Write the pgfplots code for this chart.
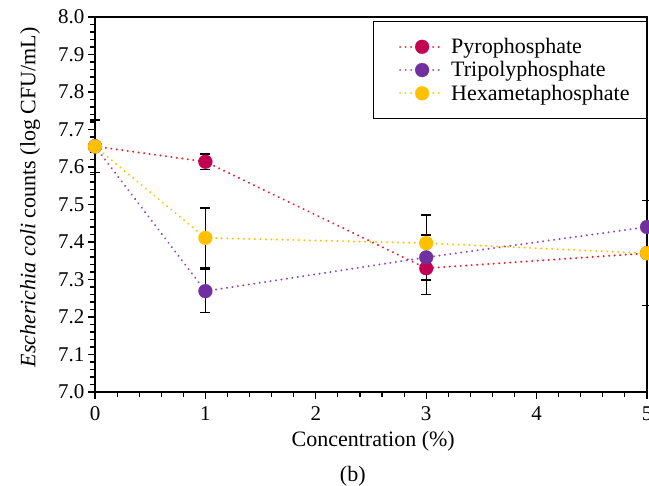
\documentclass[border=0pt]{standalone}
\usepackage{pgfplots}
\pgfplotsset{compat=1.18}
\usepackage{fontspec}
\setmainfont{Liberation Serif}
\definecolor{pyroM}{RGB}{196,0,82}
\definecolor{pyroL}{RGB}{232,28,36}
\definecolor{triM}{RGB}{112,48,160}
\definecolor{triL}{RGB}{140,70,185}
\definecolor{hexM}{RGB}{255,192,0}
\definecolor{hexL}{RGB}{255,192,0}
\begin{document}
\begin{tikzpicture}
\begin{axis}[
  name=ax, at={(0,0)}, anchor=south west,
  scale only axis, width=552pt, height=375pt,
  xmin=0, xmax=5, ymin=7, ymax=8,
  xtick={0,1,2,3,4,5},
  ytick={7.0,7.1,7.2,7.3,7.4,7.5,7.6,7.7,7.8,7.9,8.0},
  minor x tick num=4, minor y tick num=4,
  xtick pos=left, ytick pos=left,
  tick align=outside, major tick length=7pt, minor tick length=4.5pt,
  tick style={black, line width=1.1pt},
  axis line style={black, line width=1.1pt},
  /pgf/number format/assume math mode=true,
  ticklabel style={font=\fontsize{21}{24}\selectfont},
  xticklabel style={yshift=-4pt},
  yticklabel style={/pgf/number format/.cd, fixed, fixed zerofill, precision=1},
  xlabel={Concentration (\%)},
  ylabel={\textit{Escherichia coli} counts (log CFU/mL)},
  label style={font=\fontsize{22}{24}\selectfont},
  xlabel style={at={(rel axis cs:0.504,0)}, anchor=center, yshift=-49pt},
  ylabel style={at={(rel axis cs:0,0.519)}, anchor=center, yshift=65pt},
  legend style={at={(rel axis cs:1,1)}, anchor=north east, yshift=-4pt,
    draw=black, line width=0.8pt, font=\fontsize{22}{22.5}\selectfont,
    inner xsep=15pt, inner ysep=15pt, row sep=2.5pt},
  legend cell align=left,
  legend image code/.code={\path (-11pt,0pt) (48pt,0pt);\draw[mark repeat=2,mark phase=2,#1] plot coordinates {(0pt,0pt)(22pt,0pt)(44pt,0pt)};},
  error bars/error bar style={black, line width=1.3pt, solid},
  error bars/error mark options={rotate=90, black, mark size=5pt, line width=1.3pt, solid},
  clip=false,
]
% error bars first (under markers)
\addplot[forget plot, draw=none, mark=none, error bars/.cd, y dir=both, y explicit]
  coordinates {(0,7.655) +- (0,0.07) (1,7.614) +- (0,0.021) (3,7.330) +- (0,0.07) (5,7.37) +- (0,0.14)};
\addplot[forget plot, draw=none, mark=none, error bars/.cd, y dir=both, y explicit]
  coordinates {(0,7.655) +- (0,0.07) (1,7.269) +- (0,0.057) (3,7.359) +- (0,0.06) (5,7.44) +- (0,0.07)};
\addplot[forget plot, draw=none, mark=none, error bars/.cd, y dir=both, y explicit]
  coordinates {(0,7.655) +- (0,0.07) (1,7.411) +- (0,0.08) (3,7.397) +- (0,0.075) (5,7.37) +- (0,0.008)};
% series
\addplot[pyroL, line width=2.2pt, line cap=round, dash pattern=on 0.01pt off 5.5pt,
  mark=*, mark size=7pt, mark options={solid, draw=pyroM, fill=pyroM, line width=0.1pt}]
  coordinates {(0,7.655) (1,7.614) (3,7.330) (5,7.37)};
\addlegendentry{Pyrophosphate}
\addplot[triL, line width=2.2pt, line cap=round, dash pattern=on 0.01pt off 5.5pt,
  mark=*, mark size=7pt, mark options={solid, draw=triM, fill=triM, line width=0.1pt}]
  coordinates {(0,7.655) (1,7.269) (3,7.359) (5,7.44)};
\addlegendentry{Tripolyphosphate}
\addplot[hexL, line width=2.2pt, line cap=round, dash pattern=on 0.01pt off 5.5pt,
  mark=*, mark size=7pt, mark options={solid, draw=hexM, fill=hexM, line width=0.1pt}]
  coordinates {(0,7.655) (1,7.411) (3,7.397) (5,7.37)};
\addlegendentry{Hexametaphosphate}
\node[font=\fontsize{22}{24}\selectfont] at (rel axis cs:0.467,0) [yshift=-84pt] {(b)};
\end{axis}
\pgfresetboundingbox
\path ([shift={(-95pt,-94pt)}]ax.south west) rectangle ([shift={(2pt,17pt)}]ax.north east);
\end{tikzpicture}
\end{document}
